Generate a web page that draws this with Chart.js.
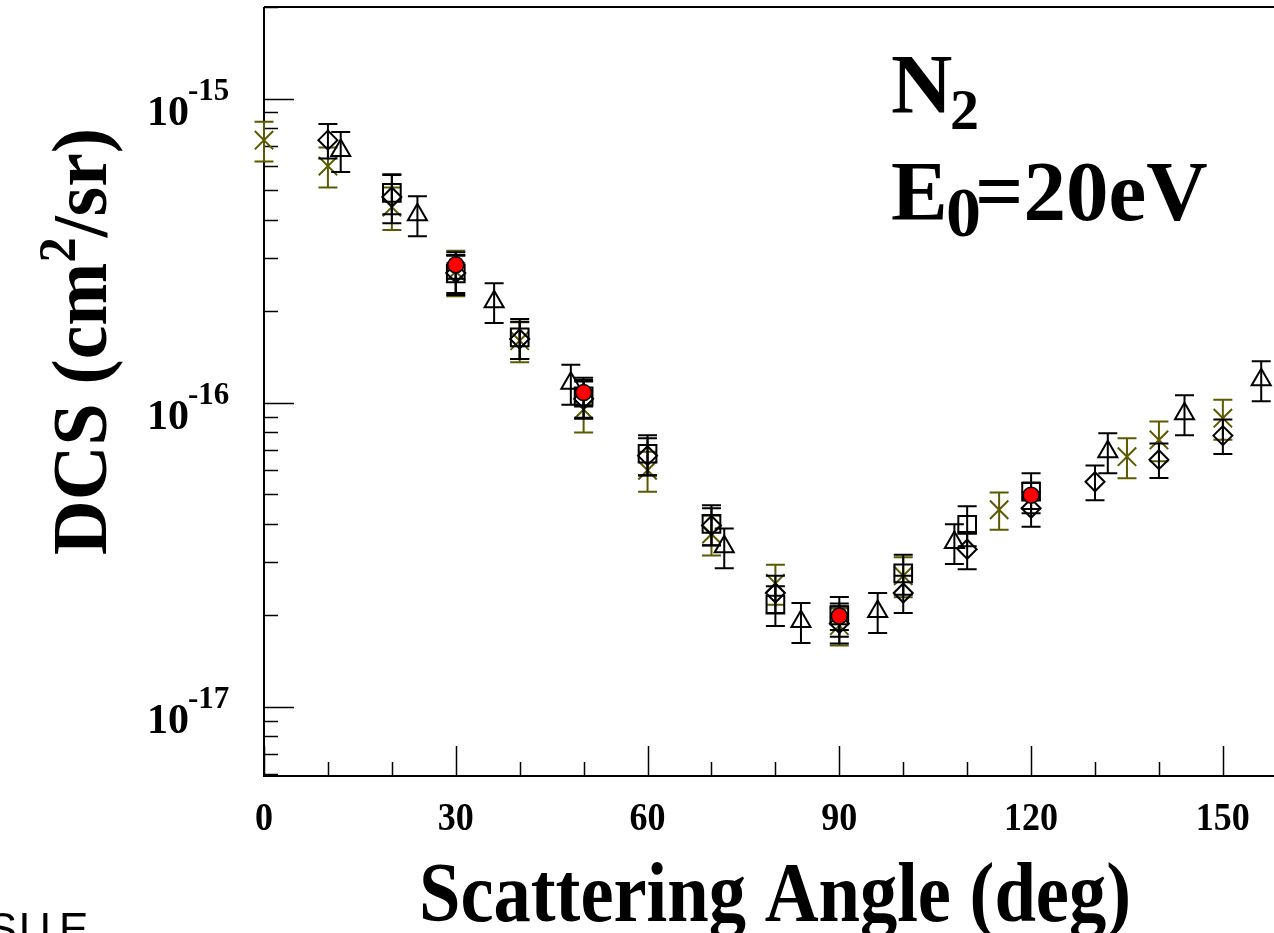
<!DOCTYPE html>
<html>
<head>
<meta charset="utf-8">
<script src="https://cdn.jsdelivr.net/npm/chart.js@4.4.0/dist/chart.umd.min.js"></script>
<style>
html, body { margin: 0; padding: 0; background: #fff; }
#wrap { width: 1274px; height: 933px; }
</style>
</head>
<body>
<div id="wrap"><canvas id="dcs-chart" width="1274" height="933"></canvas></div>
<script>
// angle (deg), DCS (cm^2/sr), error bar (% of value)
var crossAng = [0, 10, 20, 30, 40, 50, 60, 70, 80, 90, 100, 115, 135, 140, 150];
var crossDcs = [7.3e-16, 6.0e-16, 4.4e-16, 2.7e-16, 1.6e-16, 9.5e-17, 6.0e-17, 3.7e-17, 2.55e-17, 1.85e-17, 2.7e-17, 4.45e-17, 6.65e-17, 7.55e-17, 8.9e-17];
var crossErr = [15, 15, 16, 17, 15, 16, 15, 15, 15, 14, 15, 14, 15, 15, 15];

var diamAng = [10, 20, 30, 40, 50, 60, 70, 80, 90, 100, 110, 120, 130, 140, 150];
var diamDcs = [7.3e-16, 4.75e-16, 2.67e-16, 1.62e-16, 1.03e-16, 6.7e-17, 3.95e-17, 2.37e-17, 1.88e-17, 2.37e-17, 3.3e-17, 4.5e-17, 5.5e-17, 6.5e-17, 7.8e-17];
var diamErr = [13, 18, 14, 14, 14, 14, 14, 14, 14, 14, 14, 13, 13, 13, 13];

var triAng = [12, 24, 36, 48, 72, 84, 96, 108, 132, 144, 156];
var triDcs = [6.75e-16, 4.15e-16, 2.15e-16, 1.16e-16, 3.36e-17, 1.91e-17, 2.06e-17, 3.47e-17, 6.9e-17, 9.2e-17, 1.19e-16];
var triErr = [15, 15, 15, 15, 15, 15, 15, 15, 15, 15, 15];

var sqAng = [20, 30, 40, 50, 60, 70, 80, 90, 100, 110, 120];
var sqDcs = [4.9e-16, 2.66e-16, 1.64e-16, 1.05e-16, 6.8e-17, 4.0e-17, 2.17e-17, 2.0e-17, 2.75e-17, 3.97e-17, 5.1e-17];
var sqErr = [15, 15, 15, 15, 15, 15, 15, 15, 15, 15, 15];

var dotAng = [30, 50, 90, 120];
var dotDcs = [2.84e-16, 1.08e-16, 1.99e-17, 4.97e-17];
var dotErr = [10, 10, 10, 10];

var xTickVals = [0, 30, 60, 90, 120, 150];
var xTickLabels = ['0', '30', '60', '90', '120', '150'];
var yTickExps = [-15, -16, -17];

var olive = '#5c5a00';
var ctx = document.getElementById('dcs-chart');

function pts(a, v) {
    return a.map(function (x, i) { return { x: x, y: v[i] }; });
}

function serif(size) {
    return 'bold ' + size + 'px "Liberation Serif", "Times New Roman", serif';
}

// vertical error bars with caps, drawn with each dataset
var errorBars = {
    id: 'errorBars',
    beforeDatasetDraw: function (chart, args) {
        var ds = chart.data.datasets[args.index];
        if (!ds.errors) return;
        var xs = chart.scales.x, ys = chart.scales.y, c = chart.ctx;
        c.save();
        c.strokeStyle = ds.barColor;
        c.lineWidth = 2;
        ds.data.forEach(function (p, i) {
            var e = ds.errors[i] / 100 * p.y;
            var px = xs.getPixelForValue(p.x);
            var top = ys.getPixelForValue(p.y + e);
            var bot = ys.getPixelForValue(p.y - e);
            c.beginPath();
            c.moveTo(px, top); c.lineTo(px, bot);
            c.moveTo(px - 9.5, top); c.lineTo(px + 9.5, top);
            c.moveTo(px - 9.5, bot); c.lineTo(px + 9.5, bot);
            c.stroke();
        });
        c.restore();
    }
};

// ROOT-like frame with inner ticks
var frame = {
    id: 'frame',
    beforeDatasetsDraw: function (chart) {
        var a = chart.chartArea, c = chart.ctx;
        var xs = chart.scales.x, ys = chart.scales.y;
        c.save();
        c.strokeStyle = '#000';
        c.lineWidth = 2;
        c.beginPath();
        c.moveTo(a.left, a.top); c.lineTo(a.right, a.top);
        c.moveTo(a.left, a.top); c.lineTo(a.left, a.bottom); c.lineTo(a.right, a.bottom);
        c.stroke();
        c.lineWidth = 1.5;
        c.beginPath();
        for (var t = 0; t <= xs.max; t += 10) {
            var px = Math.round(xs.getPixelForValue(t)) + 0.5;
            var len = (t % 30 === 0) ? 30 : 14;
            c.moveTo(px, a.bottom); c.lineTo(px, a.bottom - len);
        }
        for (var n = -18; n <= -15; n++) {
            for (var k = 1; k <= 9; k++) {
                var v = k * Math.pow(10, n);
                if (v < ys.min || v > ys.max) continue;
                var py = Math.round(ys.getPixelForValue(v)) + 0.5;
                var l = (k === 1) ? 30 : 14;
                c.moveTo(a.left, py); c.lineTo(a.left + l, py);
            }
        }
        c.stroke();
        c.restore();
    },
    afterDraw: function (chart) {
        var c = chart.ctx;
        var xs = chart.scales.x, ys = chart.scales.y;
        c.save();
        c.fillStyle = '#000';
        c.textBaseline = 'alphabetic';

        // x tick labels (narrow)
        c.font = serif(40);
        xTickVals.forEach(function (t, i) {
            var px = xs.getPixelForValue(t);
            c.save();
            c.translate(px, 830);
            c.scale(0.9, 1);
            c.textAlign = 'center';
            c.fillText(xTickLabels[i], 0, 0);
            c.restore();
        });

        // y tick labels 10^n
        yTickExps.forEach(function (n) {
            var py = ys.getPixelForValue(Math.pow(10, n));
            c.textAlign = 'right';
            c.font = serif(42);
            c.fillText('10', 189, py + 26);
            c.textAlign = 'left';
            c.font = serif(31);
            c.fillText(String(n), 188, py + 1);
        });

        // x title
        c.save();
        c.font = serif(84);
        var xt = 'Scattering Angle (deg)';
        var w = c.measureText(xt).width;
        c.translate(419, 921);
        c.scale(712 / w, 1);
        c.textAlign = 'left';
        c.fillText(xt, 0, 0);
        c.restore();

        // y title, rotated
        c.save();
        c.translate(106, 555);
        c.rotate(-Math.PI / 2);
        c.textAlign = 'left';
        c.font = serif(78);
        var w1 = c.measureText('DCS (cm').width;
        var w3 = c.measureText('/sr)').width;
        c.font = serif(52);
        var w2 = c.measureText('2').width;
        c.scale(427 / (w1 + w2 + w3), 1);
        c.font = serif(78);
        c.fillText('DCS (cm', 0, 0);
        c.font = serif(52);
        c.fillText('2', w1, -31);
        c.font = serif(78);
        c.fillText('/sr)', w1 + w2, 0);
        c.restore();

        // annotation
        c.textAlign = 'left';
        c.font = serif(85);
        c.fillText('N', 891, 113);
        c.font = serif(58);
        c.fillText('2', 950, 129);
        c.font = serif(85);
        c.fillText('E', 891, 220);
        c.font = serif(70);
        c.fillText('0', 946, 236);
        c.font = serif(85);
        c.fillText('=20eV', 975, 220);

        // clipped text at bottom left
        c.font = '44px "Liberation Sans", Arial, sans-serif';
        c.textAlign = 'right';
        c.fillText('S', 17, 944);
        c.textAlign = 'left';
        c.fillText('U', 19, 944);
        c.fillText('E', 59, 944);
        c.restore();
    }
};

var data = {
    datasets: [
        {
            label: 'cross', data: pts(crossAng, crossDcs), errors: crossErr, barColor: olive,
            pointStyle: 'crossRot', radius: 13, borderColor: olive, borderWidth: 2,
            backgroundColor: 'rgba(0,0,0,0)', showLine: false, clip: false, order: 5
        },
        {
            label: 'diamond', data: pts(diamAng, diamDcs), errors: diamErr, barColor: '#000',
            pointStyle: 'rectRot', radius: 9.5, borderColor: '#000', borderWidth: 2,
            backgroundColor: 'rgba(0,0,0,0)', showLine: false, clip: false, order: 4
        },
        {
            label: 'triangle', data: pts(triAng, triDcs), errors: triErr, barColor: '#000',
            pointStyle: 'triangle', radius: 11, borderColor: '#000', borderWidth: 2,
            backgroundColor: 'rgba(0,0,0,0)', showLine: false, clip: false, order: 3
        },
        {
            label: 'square', data: pts(sqAng, sqDcs), errors: sqErr, barColor: '#000',
            pointStyle: 'rect', radius: 12.5, borderColor: '#000', borderWidth: 2,
            backgroundColor: 'rgba(0,0,0,0)', showLine: false, clip: false, order: 2
        },
        {
            label: 'dot', data: pts(dotAng, dotDcs), errors: dotErr, barColor: '#000',
            pointStyle: 'circle', radius: 8, borderColor: '#000', borderWidth: 1.5,
            backgroundColor: '#ff0000', showLine: false, clip: false, order: 1
        }
    ]
};

var config = {
    type: 'scatter',
    data: data,
    options: {
        responsive: false,
        devicePixelRatio: 1,
        animation: false,
        events: [],
        layout: { autoPadding: false, padding: { left: 264, top: 7, right: 0, bottom: 157 } },
        scales: {
            x: { type: 'linear', min: 0, max: 158, display: false },
            y: { type: 'logarithmic', min: 5.93e-18, max: 2.0e-15, display: false }
        },
        plugins: {
            legend: { display: false },
            tooltip: { enabled: false }
        }
    },
    plugins: [errorBars, frame]
};

var myChart = new Chart(ctx, config);
</script>
</body>
</html>
